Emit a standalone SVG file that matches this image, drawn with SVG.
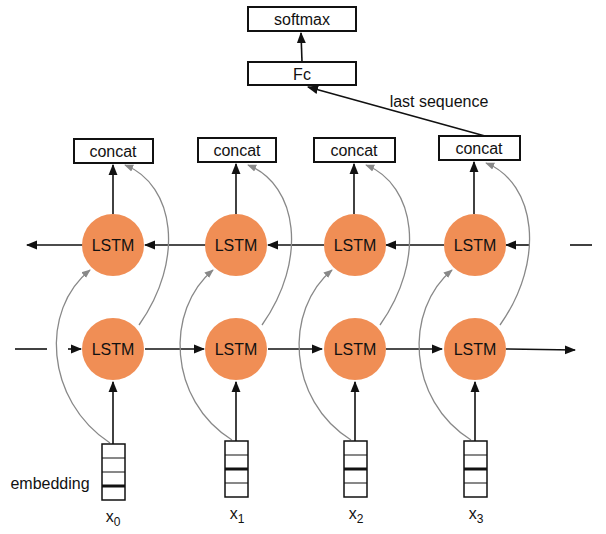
<svg xmlns="http://www.w3.org/2000/svg" width="606" height="534" viewBox="0 0 606 534">
<defs>
<marker id="a" viewBox="0 0 10 10" refX="9" refY="5" markerWidth="7" markerHeight="7" orient="auto"><path d="M0,1 L10,5 L0,9 z" fill="#111"/></marker>
<marker id="g" viewBox="0 0 10 10" refX="9" refY="5" markerWidth="7" markerHeight="7" orient="auto"><path d="M0,1 L10,5 L0,9 z" fill="#888"/></marker>
<style>
.box{fill:#fff;stroke:#111;stroke-width:2}
.t{font-family:"Liberation Sans",Arial,sans-serif;font-size:16px;fill:#111;text-anchor:middle}
.n{fill:#f08e55}
.l{stroke:#111;stroke-width:1.6;fill:none}
.c{stroke:#888;stroke-width:1.3;fill:none}
.e{fill:#fff;stroke:#111;stroke-width:1.5}
</style>
</defs>
<rect width="606" height="534" fill="#fff"/>
<g id="connectors">
<line class="l" x1="302" y1="62" x2="301" y2="33" marker-end="url(#a)"/>
<line class="l" x1="485" y1="136" x2="308" y2="87" marker-end="url(#a)"/>
<line class="l" x1="113" y1="214" x2="113" y2="165" marker-end="url(#a)"/>
<line class="l" x1="236" y1="214" x2="236" y2="164" marker-end="url(#a)"/>
<line class="l" x1="354" y1="214" x2="354" y2="164" marker-end="url(#a)"/>
<line class="l" x1="474" y1="214" x2="474" y2="162" marker-end="url(#a)"/>
<line class="l" x1="83" y1="245" x2="27" y2="245" marker-end="url(#a)"/>
<line class="l" x1="206" y1="245" x2="145" y2="245" marker-end="url(#a)"/>
<line class="l" x1="324" y1="245" x2="268" y2="245" marker-end="url(#a)"/>
<line class="l" x1="444" y1="245" x2="386" y2="245" marker-end="url(#a)"/>
<line class="l" x1="530" y1="245" x2="506" y2="245" marker-end="url(#a)"/>
<line class="l" x1="570" y1="245" x2="592" y2="245"/>
<line class="l" x1="15" y1="349" x2="47" y2="349"/>
<line class="l" x1="68" y1="349" x2="81" y2="349" marker-end="url(#a)"/>
<line class="l" x1="145" y1="349" x2="204" y2="349" marker-end="url(#a)"/>
<line class="l" x1="268" y1="349" x2="322" y2="349" marker-end="url(#a)"/>
<line class="l" x1="386" y1="349" x2="442" y2="349" marker-end="url(#a)"/>
<line class="l" x1="506" y1="349" x2="575" y2="350" marker-end="url(#a)"/>
<line class="l" x1="113" y1="444" x2="113" y2="382" marker-end="url(#a)"/>
<line class="l" x1="236" y1="441" x2="236" y2="382" marker-end="url(#a)"/>
<line class="l" x1="355" y1="441" x2="355" y2="382" marker-end="url(#a)"/>
<line class="l" x1="475" y1="441" x2="475" y2="382" marker-end="url(#a)"/>
<path class="c" d="M110,443 C45,400 40,310 90,270" marker-end="url(#g)"/>
<path class="c" d="M139,325 C185,260 175,185 125,165" marker-end="url(#g)"/>
<path class="c" d="M232,440 C168,400 165,310 213,270" marker-end="url(#g)"/>
<path class="c" d="M262,325 C308,260 298,185 248,165" marker-end="url(#g)"/>
<path class="c" d="M351,440 C287,400 284,310 332,270" marker-end="url(#g)"/>
<path class="c" d="M380,325 C426,260 416,185 366,165" marker-end="url(#g)"/>
<path class="c" d="M471,440 C407,400 404,310 452,270" marker-end="url(#g)"/>
<path class="c" d="M500,325 C546,260 536,183 486,163" marker-end="url(#g)"/>
<text class="t" x="439" y="107">last sequence</text>
</g>
<g id="softmax"><rect class="box" x="248" y="7" width="108" height="24"/><text class="t" x="302" y="25">softmax</text></g>
<g id="fc"><rect class="box" x="248" y="62" width="108" height="23"/><text class="t" x="302" y="80">Fc</text></g>
<g id="concat0"><rect class="box" x="74" y="139" width="79" height="24"/><text class="t" x="113" y="157">concat</text></g>
<g id="concat1"><rect class="box" x="198" y="138" width="78" height="24"/><text class="t" x="237" y="156">concat</text></g>
<g id="concat2"><rect class="box" x="314" y="138" width="81" height="24"/><text class="t" x="354" y="156">concat</text></g>
<g id="concat3"><rect class="box" x="439" y="136" width="81" height="24"/><text class="t" x="479" y="154">concat</text></g>
<g id="bw0"><circle class="n" cx="113" cy="245" r="31"/><text class="t" x="113" y="251">LSTM</text></g>
<g id="bw1"><circle class="n" cx="236" cy="245" r="31"/><text class="t" x="236" y="251">LSTM</text></g>
<g id="bw2"><circle class="n" cx="355" cy="245" r="31"/><text class="t" x="355" y="251">LSTM</text></g>
<g id="bw3"><circle class="n" cx="475" cy="245" r="31"/><text class="t" x="475" y="251">LSTM</text></g>
<g id="fw0"><circle class="n" cx="113" cy="349" r="31"/><text class="t" x="113" y="355">LSTM</text></g>
<g id="fw1"><circle class="n" cx="236" cy="349" r="31"/><text class="t" x="236" y="355">LSTM</text></g>
<g id="fw2"><circle class="n" cx="355" cy="349" r="31"/><text class="t" x="355" y="355">LSTM</text></g>
<g id="fw3"><circle class="n" cx="475" cy="349" r="31"/><text class="t" x="475" y="355">LSTM</text></g>
<g id="x0"><rect class="e" x="102" y="444" width="23" height="56"/><path d="M102,458h23M102,472h23M102,486h23" stroke="#111"/><path d="M102,486h23" stroke="#111" stroke-width="3"/><text class="t" x="50" y="489">embedding</text><text class="t" x="113" y="522" font-size="17">x<tspan font-size="12" dy="4">0</tspan></text></g>
<g id="x1"><rect class="e" x="225" y="441" width="23" height="56"/><path d="M225,455h23M225,469h23M225,483h23" stroke="#111"/><path d="M225,469h23" stroke="#111" stroke-width="3"/><text class="t" x="237" y="519" font-size="17">x<tspan font-size="12" dy="4">1</tspan></text></g>
<g id="x2"><rect class="e" x="344" y="441" width="23" height="56"/><path d="M344,455h23M344,469h23M344,483h23" stroke="#111"/><path d="M344,469h23" stroke="#111" stroke-width="3"/><text class="t" x="356" y="519" font-size="17">x<tspan font-size="12" dy="4">2</tspan></text></g>
<g id="x3"><rect class="e" x="464" y="441" width="23" height="56"/><path d="M464,455h23M464,469h23M464,483h23" stroke="#111"/><path d="M464,469h23" stroke="#111" stroke-width="3"/><text class="t" x="476" y="519" font-size="17">x<tspan font-size="12" dy="4">3</tspan></text></g>
</svg>
